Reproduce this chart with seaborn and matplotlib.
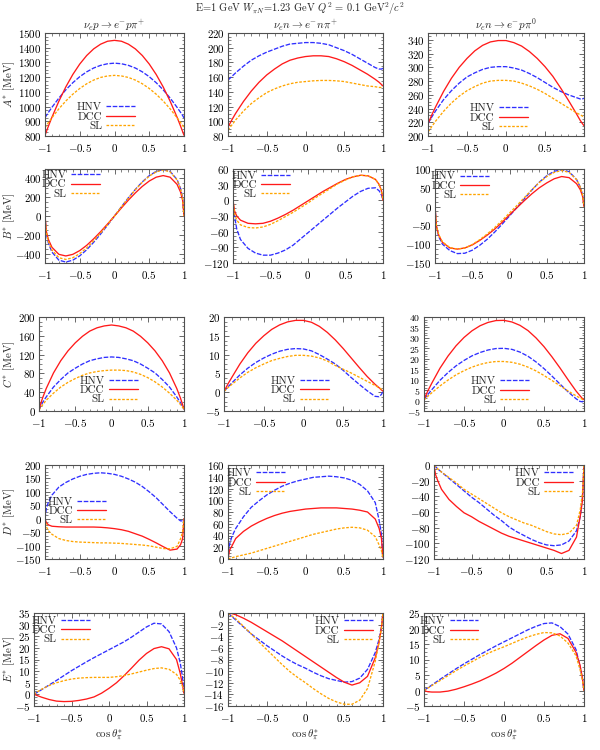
import numpy as np
import pandas as pd
import matplotlib
matplotlib.use("Agg")
import matplotlib.pyplot as plt
from matplotlib.ticker import MultipleLocator, AutoMinorLocator, FuncFormatter
import seaborn as sns

# ---------------- data ----------------
X = [-1, -0.98, -0.95, -0.9, -0.8, -0.7, -0.6, -0.5, -0.4, -0.3, -0.2, -0.1, 0,
     0.1, 0.2, 0.3, 0.4, 0.5, 0.6, 0.7, 0.8, 0.9, 0.95, 0.98, 1]

models = ["HNV", "DCC", "SL"]
channels = [r"$\nu_e p \rightarrow e^{-} p \pi^{+}$",
            r"$\nu_e n \rightarrow e^{-} n \pi^{+}$",
            r"$\nu_e n \rightarrow e^{-} p \pi^{0}$"]
ylabels = [r"$A^{*}$ [MeV]", r"$B^{*}$ [MeV]", r"$C^{*}$ [MeV]",
           r"$D^{*}$ [MeV]", r"$E^{*}$ [MeV]"]

# A*
A_p_HNV = [925, 940, 961, 995, 1058, 1114, 1162, 1203, 1236, 1262, 1280, 1291, 1295, 1291, 1280, 1262, 1236, 1203, 1162, 1114, 1058, 995, 961, 940, 922]
A_p_DCC = [805, 830, 868, 928, 1037, 1134, 1218, 1289, 1347, 1392, 1424, 1444, 1450, 1444, 1424, 1392, 1347, 1289, 1218, 1134, 1037, 928, 868, 830, 805]
A_p_SL = [857, 871, 892, 924, 985, 1038, 1084, 1123, 1155, 1180, 1198, 1208, 1212, 1208, 1198, 1180, 1155, 1123, 1084, 1038, 985, 924, 892, 871, 857]
A_n_HNV = [156, 158, 161, 166, 175, 183, 189, 194, 198, 202, 205, 206, 207, 207, 206, 204, 200, 196, 191, 185, 179, 173, 171, 171, 172]
A_n_DCC = [92, 96, 102, 111, 127, 141, 153, 163, 171, 178, 183, 186, 188, 189, 189, 188, 185, 181, 176, 170, 164, 157, 153, 150, 148]
A_n_SL = [88, 91, 95, 102, 114, 124, 132, 139, 144, 148, 151, 153, 154, 155, 155.5, 155.5, 155, 154, 152, 150, 148, 147, 146, 146, 146]
A_0_HNV = [218, 222, 228, 237, 253, 266, 277, 286, 292, 297, 300, 301, 301, 299, 296, 291, 285, 278, 271, 265, 260, 256, 254, 254, 255]
A_0_DCC = [218, 223, 231, 243, 265, 284, 300, 313, 324, 332, 337, 339, 339, 336, 331, 323, 313, 301, 287, 270, 252, 233, 223, 218, 215]
A_0_SL = [206, 209, 214, 222, 236, 248, 258, 266, 272, 277, 280, 281, 281, 280, 277, 273, 268, 262, 255, 248, 241, 234, 231, 229, 228]

# B*
B_p_HNV = [0, -191, -291, -384, -470, -490, -470, -424, -359, -280, -192, -98, 0, 99, 194, 283, 363, 429, 475, 495, 475, 388, 294, 193, 0]
B_p_DCC = [0, -166, -252, -333, -408, -425, -408, -368, -312, -243, -167, -85, 0, 86, 169, 246, 315, 372, 413, 430, 413, 337, 255, 168, 0]
B_p_SL = [0, -180, -274, -362, -444, -462, -444, -400, -339, -264, -181, -92, 0, 97, 192, 280, 359, 424, 470, 490, 470, 384, 291, 191, 0]
B_n_HNV = [0, -30, -55, -75, -92, -101, -105, -105, -101, -95, -86, -74, -62, -50, -38, -26, -14, -3, 8, 17, 23, 24, 18, 10, 0]
B_n_DCC = [0, -20, -30, -38, -44, -45, -44, -40, -34, -27, -19, -10, -1, 8, 17, 25, 33, 40, 45, 48, 47, 40, 30, 18, 0]
B_n_SL = [0, -25, -38, -47, -52, -53, -51, -46, -39, -31, -23, -14, -5, 5, 14, 23, 32, 39, 45, 48, 47, 40, 30, 18, 0]
B_0_HNV = [0, -55, -80, -100, -117, -125, -124, -116, -103, -87, -68, -47, -25, -2, 21, 44, 65, 82, 94, 98, 93, 72, 52, 32, 0]
B_0_DCC = [0, -52, -76, -95, -110, -113, -110, -102, -90, -76, -60, -42, -22, -3, 16, 34, 50, 63, 74, 80, 77, 61, 45, 28, 0]
B_0_SL = [0, -52, -75, -94, -109, -113, -110, -101, -88, -73, -56, -37, -17, 3, 24, 45, 64, 80, 91, 96, 91, 72, 52, 32, 0]

# C*
C_p_HNV = [2, 9, 18, 30, 51, 67, 81, 91, 100, 107, 111, 114, 115, 114, 111, 107, 100, 91, 81, 67, 51, 30, 18, 9, 4]
C_p_DCC = [2, 14, 28, 48, 81, 107, 128, 145, 159, 170, 177, 181, 183, 181, 177, 170, 159, 145, 128, 107, 81, 48, 28, 14, 4]
C_p_SL = [2, 7, 13, 23, 38, 51, 61, 69, 76, 81, 84, 86, 87, 87, 86, 83, 78, 71, 62, 51, 38, 23, 14, 8, 4]
C_n_HNV = [0.2, 0.7, 1.4, 2.5, 4.6, 6.4, 7.9, 9.1, 10.1, 10.9, 11.4, 11.6, 11.5, 11.0, 10.0, 8.8, 7.5, 5.8, 3.9, 2.1, 0.4, -1.1, -1.2, -0.6, 0.2]
C_n_DCC = [0.2, 1.0, 2.2, 4.0, 7.5, 10.5, 13.0, 15.0, 16.7, 17.9, 18.7, 19.1, 19.1, 18.6, 17.5, 15.9, 13.9, 11.6, 9.1, 6.6, 4.2, 2.1, 1.2, 0.6, 0.3]
C_n_SL = [0.2, 0.6, 1.2, 2.1, 3.8, 5.3, 6.5, 7.5, 8.4, 9.0, 9.5, 9.8, 9.8, 9.6, 9.1, 8.3, 7.1, 6.1, 5.1, 4.0, 2.9, 1.8, 1.2, 0.8, 0.5]
C_0_HNV = [0.5, 1.5, 3.0, 5.3, 9.7, 13.4, 16.6, 19.2, 21.4, 23.0, 24.2, 24.9, 25.0, 24.5, 23.2, 21.2, 18.5, 15.3, 11.7, 7.9, 4.2, 0.9, -0.4, -0.6, 0.0]
C_0_DCC = [0.5, 2.3, 4.8, 8.5, 15.5, 21.3, 26.2, 30.2, 33.4, 35.8, 37.4, 38.3, 38.4, 37.6, 36.0, 33.5, 30.0, 25.8, 20.9, 15.6, 10.0, 4.6, 2.3, 1.0, 0.5]
C_0_SL = [0.3, 1.0, 2.1, 3.8, 7.0, 9.8, 12.3, 14.3, 16.0, 17.3, 18.2, 18.7, 18.7, 18.3, 17.4, 16.0, 14.2, 12.0, 9.6, 7.1, 4.6, 2.3, 1.2, 0.6, 0.3]

# D*
D_p_HNV = [0, 40, 62, 88, 118, 135, 148, 158, 165, 169, 171, 169, 165, 158, 148, 136, 120, 100, 78, 52, 26, 2, -8, -8, 0]
D_p_DCC = [0, -15, -23, -28, -30, -31, -31, -31, -31, -31, -32, -34, -37, -41, -47, -56, -65, -77, -90, -104, -117, -113, -97, -75, 0]
D_p_SL = [0, -30, -45, -58, -74, -81, -85, -87, -88, -89, -90, -90, -91, -92, -94, -96, -98, -101, -106, -111, -112, -103, -75, -50, 0]
D_n_HNV = [0, 25, 38, 52, 72, 88, 99, 109, 117, 124, 129, 133, 136, 139, 140, 141, 140, 138, 134, 127, 116, 96, 66, 42, 3]
D_n_DCC = [0, 15, 22, 35, 47, 56, 63, 69, 74, 78, 81, 83, 85, 86, 87, 87, 87, 86, 85, 83, 80, 68, 52, 35, 3]
D_n_SL = [0, 1, 2, 4, 7, 10, 14, 18, 22, 26, 30, 34, 38, 42, 45, 48, 51, 53, 54, 53, 49, 38, 24, 14, 1]
D_0_HNV = [0, -2, -5, -9, -17, -25, -33, -41, -48, -56, -64, -71, -79, -85, -90, -95, -99, -102, -103, -102, -97, -84, -66, -40, 0]
D_0_DCC = [0, -12, -20, -31, -44, -53, -61, -66, -72, -77, -82, -87, -91, -94, -97, -100, -103, -106, -109, -113, -109, -92, -65, -45, 0]
D_0_SL = [0, -2, -5, -9, -16, -23, -31, -37, -43, -49, -55, -61, -66, -70, -74, -77, -81, -85, -88, -89, -87, -77, -57, -35, 0]

# E*
E_p_HNV = [0, 0.4, 1.0, 2.0, 4.0, 6.0, 8.1, 10.2, 12.1, 14.0, 15.8, 17.5, 19.2, 20.9, 22.6, 24.6, 26.8, 29.0, 30.6, 30.3, 27.0, 20.0, 13.5, 7.5, 0.5]
E_p_DCC = [0, -0.2, -0.6, -1.2, -2.2, -2.9, -3.1, -3.0, -2.6, -2.0, -1.1, 0.5, 2.6, 5.0, 8.0, 11.3, 14.7, 17.6, 19.7, 20.5, 19.6, 15.0, 9.0, 4.0, 0.5]
E_p_SL = [0, 0.5, 1.2, 2.2, 3.8, 5.0, 5.9, 6.6, 7.0, 7.2, 7.3, 7.3, 7.3, 7.6, 8.1, 8.8, 9.6, 10.4, 11.1, 11.4, 10.8, 8.6, 6.1, 3.5, 0.5]
E_n_HNV = [0, -0.25, -0.6, -1.2, -2.4, -3.6, -4.6, -5.6, -6.5, -7.4, -8.2, -8.9, -9.5, -10.2, -10.8, -11.3, -11.6, -11.9, -11.8, -11.2, -9.7, -6.8, -4.5, -2.3, 0]
E_n_DCC = [0, 0, -0.1, -0.3, -0.9, -1.6, -2.4, -3.2, -4.0, -4.8, -5.7, -6.6, -7.5, -8.4, -9.3, -10.2, -11.1, -11.9, -12.4, -12.0, -10.9, -7.7, -5.0, -2.5, 0]
E_n_SL = [0, -0.2, -0.5, -1.0, -2.3, -3.6, -5.0, -6.3, -7.6, -8.9, -10.1, -11.1, -12.0, -13.0, -13.9, -14.7, -15.3, -15.7, -15.7, -15.0, -13.0, -8.3, -5.0, -2.5, 0]
E_0_HNV = [0, 0.4, 0.9, 1.8, 3.6, 5.3, 7.0, 8.6, 10.1, 11.6, 13.0, 14.4, 15.7, 17.0, 18.3, 19.6, 20.7, 21.6, 21.8, 20.6, 18.2, 13.2, 7.8, 4.0, 0]
E_0_DCC = [0, -0.2, -0.4, -0.5, -0.5, -0.2, 0.4, 1.2, 2.1, 3.1, 4.3, 5.6, 7.1, 8.8, 10.7, 12.6, 14.5, 16.3, 17.8, 18.3, 16.8, 12.3, 8.2, 4.0, 0]
E_0_SL = [0, 0.3, 0.8, 1.6, 3.2, 4.8, 6.4, 7.9, 9.3, 10.7, 12.0, 13.1, 14.1, 15.2, 16.3, 17.3, 18.1, 18.7, 18.6, 17.6, 15.3, 11.2, 6.8, 3.5, 0]

series = [
    [(A_p_HNV, A_p_DCC, A_p_SL), (A_n_HNV, A_n_DCC, A_n_SL), (A_0_HNV, A_0_DCC, A_0_SL)],
    [(B_p_HNV, B_p_DCC, B_p_SL), (B_n_HNV, B_n_DCC, B_n_SL), (B_0_HNV, B_0_DCC, B_0_SL)],
    [(C_p_HNV, C_p_DCC, C_p_SL), (C_n_HNV, C_n_DCC, C_n_SL), (C_0_HNV, C_0_DCC, C_0_SL)],
    [(D_p_HNV, D_p_DCC, D_p_SL), (D_n_HNV, D_n_DCC, D_n_SL), (D_0_HNV, D_0_DCC, D_0_SL)],
    [(E_p_HNV, E_p_DCC, E_p_SL), (E_n_HNV, E_n_DCC, E_n_SL), (E_0_HNV, E_0_DCC, E_0_SL)],
]

# y ranges and major tick steps per panel
ylims = [[(800, 1500, 100), (80, 220, 20), (200, 350, 20)],
         [(-500, 500, 200), (-120, 60, 30), (-150, 100, 50)],
         [(0, 200, 40), (-5, 20, 5), (-5, 40, 5)],
         [(-150, 200, 50), (0, 160, 20), (-120, 0, 20)],
         [(-5, 35, 5), (-16, 0, 2), (-5, 25, 5)]]

# ---------------- style ----------------
sns.set_theme(style="ticks")
plt.rcParams.update({
    "font.family": "serif",
    "font.serif": ["cmr10", "DejaVu Serif"],
    "mathtext.fontset": "cm",
    "axes.formatter.use_mathtext": True,
    "axes.unicode_minus": True,
    "axes.edgecolor": "#505050",
    "axes.linewidth": 0.8,
    "xtick.direction": "in", "ytick.direction": "in",
    "xtick.top": True, "ytick.right": True,
    "xtick.color": "#505050", "ytick.color": "#505050",
    "xtick.labelcolor": "black", "ytick.labelcolor": "black",
    "xtick.major.size": 3.5, "ytick.major.size": 3.5,
    "xtick.minor.size": 1.8, "ytick.minor.size": 1.8,
    "xtick.major.width": 0.6, "ytick.major.width": 0.6,
    "xtick.minor.width": 0.5, "ytick.minor.width": 0.5,
    "xtick.minor.visible": True, "ytick.minor.visible": True,
})

colors = {"HNV": "#2f2fff", "DCC": "#ff1a1a", "SL": "#ffa500"}
dashes = {"HNV": (3.5, 1.2), "DCC": None, "SL": (2.0, 1.2)}

FS = 7.9
LFS = 8.0
W, H = 600, 750
fig = plt.figure(figsize=(6, 7.5), dpi=100)

# panel boxes in pixels: (left, top, right, bottom)
rows_tb = [(33, 136), (169, 263), (317, 411), (465, 559), (613, 706)]
lefts = [[45, 228, 428], [45, 233, 435], [39, 224, 424], [45, 228, 434], [34, 228, 424]]
rights = [184, 383, 584]

# legend anchors in axes fraction: (x of line end, top)
leg_pos = [[(0.65, 0.325), None, (0.64, 0.315)],
           [(0.395, 0.985), (0.38, 0.98), (0.365, 0.972)],
           [(0.68, 0.37), (0.66, 0.37), (0.658, 0.367)],
           [(0.44, 0.662), (0.368, 0.962), (0.929, 0.962)],
           [(0.372, 0.965), (0.933, 0.962), (0.34, 0.962)]]

fmt = FuncFormatter(lambda v, p: "$%g$" % v)

for r in range(5):
    top, bot = rows_tb[r]
    for c in range(3):
        l = lefts[r][c]
        rr = rights[c]
        ax = fig.add_axes([l / W, 1 - bot / H, (rr - l) / W, (bot - top) / H])
        handles = []
        for m, vals in zip(models, series[r][c]):
            df = pd.DataFrame({"x": X, "y": vals})
            sns.lineplot(data=df, x="x", y="y", ax=ax, color=colors[m],
                         linewidth=0.95, label=m, legend=False)
            ln = ax.lines[-1]
            if dashes[m] is not None:
                ln.set_dashes(dashes[m])
            handles.append(ln)
        y0, y1, st = ylims[r][c]
        ax.set_xlim(-1, 1)
        ax.set_ylim(y0, y1)
        ax.xaxis.set_major_locator(MultipleLocator(0.5))
        ax.xaxis.set_minor_locator(AutoMinorLocator(5))
        ax.yaxis.set_major_locator(MultipleLocator(st))
        ax.yaxis.set_minor_locator(AutoMinorLocator(4))
        ax.xaxis.set_major_formatter(fmt)
        ax.yaxis.set_major_formatter(fmt)
        ax.tick_params(labelsize=FS)
        ax.tick_params(axis="x", pad=4)
        ax.tick_params(axis="y", pad=2.5)
        if (y1 - y0) / st > 8:
            ax.tick_params(axis="y", labelsize=7.0)
        ax.tick_params(which="both", top=True, right=True)
        ax.set_xlabel("")
        ax.set_ylabel("")
        for s in ax.spines.values():
            s.set_visible(True)
        if r == 0:
            ax.set_title(channels[c], fontsize=FS, pad=2)
        if r == 4:
            ax.set_xlabel(r"$\cos\theta^{*}_{\pi}$", fontsize=FS, labelpad=3)
        lp = leg_pos[r][c]
        if lp is not None:
            ax.legend(handles, models, markerfirst=False, frameon=False,
                      loc="upper right", bbox_to_anchor=lp, fontsize=LFS,
                      handlelength=2.6, handletextpad=0.4, labelspacing=-0.05,
                      borderpad=0.0, borderaxespad=0.0)
    fig.text(9.5 / W, 1 - ((top + bot) / 2) / H, ylabels[r], rotation=90,
             ha="center", va="center", fontsize=FS)

fig.text(0.5, 1 - 8.5 / H,
         r"E=1 GeV $W_{\pi N}$=1.23 GeV $Q^2$ = 0.1 GeV$^2$/$c^2$",
         ha="center", va="center", fontsize=7.5)

fig.savefig("out.png", dpi=100)
